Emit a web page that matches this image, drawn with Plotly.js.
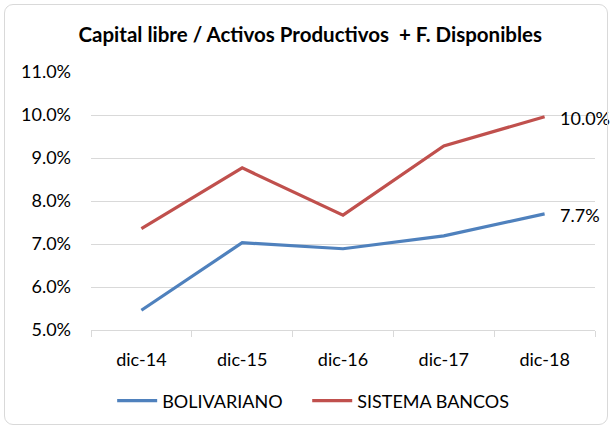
<!DOCTYPE html>
<html>
<head>
<meta charset="utf-8">
<script src="https://cdn.plot.ly/plotly-3.0.1.min.js"></script>
<style>
html,body{margin:0;padding:0;background:#fff;}
#wrap{position:relative;width:612px;height:428px;}
#chart{width:612px;height:428px;}
#frame{position:absolute;left:4px;top:4px;width:604px;height:421px;border:1px solid #d9d9d9;border-radius:9px;pointer-events:none;box-sizing:border-box;}
</style>
</head>
<body>
<div id="wrap"><div id="chart"></div><div id="frame"></div></div>
<script>
const categories = ['dic-14','dic-15','dic-16','dic-17','dic-18'];
const bolivariano = [5.46, 7.03, 6.89, 7.19, 7.70];
const sistemaBancos = [7.36, 8.77, 7.67, 9.28, 9.96];
const yTicks = [5,6,7,8,9,10,11];
const yTickLabels = ['5.0%','6.0%','7.0%','8.0%','9.0%','10.0%','11.0%'];

const font = "Lato, 'Open Sans', sans-serif";
const last = categories.length - 1;

const traces = [
  {x: categories, y: bolivariano, name: 'BOLIVARIANO', type: 'scatter', mode: 'lines',
   line: {color: '#4f81bd', width: 3.2}, legend: 'legend'},
  {x: categories, y: sistemaBancos, name: 'SISTEMA BANCOS', type: 'scatter', mode: 'lines',
   line: {color: '#c0504d', width: 3.2}, legend: 'legend2'}
];

const annotations = [bolivariano, sistemaBancos].map(arr => ({
  x: categories[last], y: arr[last], xref: 'x', yref: 'y',
  text: arr[last].toFixed(1) + '%', showarrow: false,
  xanchor: 'left', yanchor: 'middle', xshift: 13, yshift: -1,
  font: {size: 18, color: '#000', family: font}
}));

const legendBase = {orientation: 'h', xanchor: 'left', y: -0.275, yanchor: 'middle',
  font: {size: 18, color: '#000'}, itemwidth: 40, bgcolor: 'rgba(0,0,0,0)'};

const layout = {
  width: 612, height: 428,
  margin: {l: 91, r: 17, t: 72, b: 98, autoexpand: false},
  paper_bgcolor: '#fff', plot_bgcolor: '#fff',
  font: {family: font, size: 18, color: '#000'},
  title: {text: '<b>Capital libre / Activos Productivos  + F. Disponibles</b>', font: {size: 20.5, family: font, color: '#000'},
          x: 0.507, xanchor: 'center', y: 0.918, yanchor: 'middle'},
  xaxis: {type: 'category', range: [-0.5, 4.5], showgrid: false, showline: true, linecolor: '#d9d9d9', linewidth: 1,
          ticks: 'outside', tickson: 'boundaries', ticklen: 6, tickcolor: '#d9d9d9', tickfont: {size: 18, color: '#000'},
          ticklabelstandoff: 13, zeroline: false, fixedrange: true},
  yaxis: {range: [5, 11], tickvals: yTicks, ticktext: yTickLabels, showgrid: true, gridcolor: '#d9d9d9', gridwidth: 1,
          showline: false, zeroline: false, ticks: '', ticklabelstandoff: 19, tickfont: {size: 18, color: '#000'}, fixedrange: true},
  annotations: annotations,
  showlegend: true,
  legend: Object.assign({}, legendBase, {x: 0.042}),
  legend2: Object.assign({}, legendBase, {x: 0.429})
};

Plotly.newPlot('chart', traces, layout, {displayModeBar: false, staticPlot: true});
</script>
</body>
</html>
